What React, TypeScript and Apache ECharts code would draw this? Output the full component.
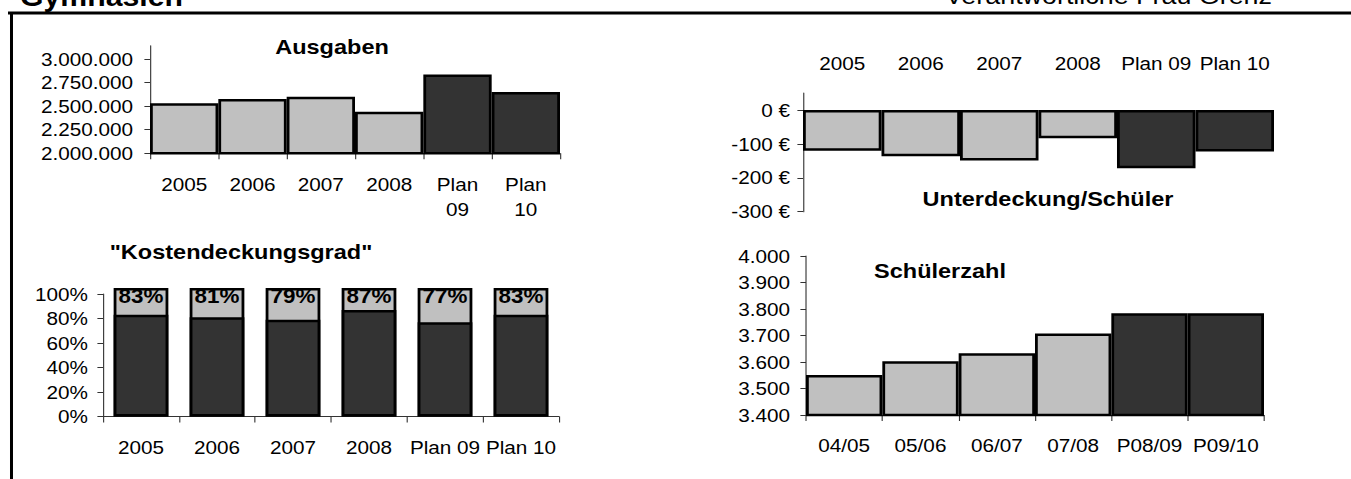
import { useEffect, useRef } from 'react';
import * as echarts from 'echarts';

// ---------- data ----------
const expenseYears = ['2005', '2006', '2007', '2008', 'Plan 09', 'Plan 10'];
const expenses = [2530000, 2575000, 2600000, 2440000, 2835000, 2650000];
const expenseTicks = [2000000, 2250000, 2500000, 2750000, 3000000];

const deficitYears = ['2005', '2006', '2007', '2008', 'Plan 09', 'Plan 10'];
const deficitPerPupil = [-120, -136, -149, -83, -172, -122];
const deficitTicks = [0, -100, -200, -300];

const coverageYears = ['2005', '2006', '2007', '2008', 'Plan 09', 'Plan 10'];
const coverage = [83, 81, 79, 87, 77, 83];
const coverageCap = [105, 105, 105, 105, 105, 105];

const schoolYears = ['04/05', '05/06', '06/07', '07/08', 'P08/09', 'P09/10'];
const pupils = [3551, 3603, 3633, 3708, 3784, 3784];

// ---------- layout / style ----------
const PAGE_W = 1351;
const PAGE_H = 479;
const CW = 1206;
const SX = PAGE_W / CW;
const X = (p: number) => p / SX;

const FONT = '"Liberation Sans", Arial, Helvetica, sans-serif';
const TICK_FONT = 18.5;
const AXIS_COLOR = '#333';
const GRAY = '#c0c0c0';
const DARK = '#333333';

const thousands = (v: number) => String(v).replace(/\B(?=(\d{3})+(?!\d))/g, '.');
const isPlan = (c: string) => c.startsWith('P');

const lineStyle = { color: AXIS_COLOR, width: 1 };

function catAxis(gridIndex: number, data: string[], margin: number, extra: any = {}) {
  return {
    type: 'category',
    gridIndex,
    data,
    axisLine: { show: true, onZero: false, lineStyle },
    axisTick: { show: true, length: 6, lineStyle },
    axisLabel: {
      interval: 0,
      color: '#000',
      fontFamily: FONT,
      fontSize: TICK_FONT,
      lineHeight: 20,
      margin,
      ...(extra.axisLabel || {}),
    },
    splitLine: { show: false },
    ...(extra.rest || {}),
  };
}

function valAxis(gridIndex: number, cfg: any, margin: number, formatter: (v: number) => string, custom?: number[]) {
  return {
    type: 'value',
    gridIndex,
    ...cfg,
    axisLine: { show: true, onZero: false, lineStyle },
    axisTick: { show: true, length: 5, lineStyle, ...(custom ? { customValues: custom } : {}) },
    axisLabel: {
      color: '#000',
      fontFamily: FONT,
      fontSize: TICK_FONT,
      margin,
      formatter,
      ...(custom ? { customValues: custom } : {}),
    },
    splitLine: { show: false },
  };
}

function barItem(cats: string[]) {
  return {
    color: (p: any) => (isPlan(cats[p.dataIndex]) ? DARK : GRAY),
    borderColor: '#000',
    borderWidth: 2.5,
  };
}

function titleText(text: string, cx: number, cy: number, size = 21) {
  return {
    type: 'text',
    x: X(cx),
    y: cy,
    silent: true,
    style: {
      text,
      fill: '#000',
      font: `bold ${size}px ${FONT}`,
      align: 'center',
      verticalAlign: 'middle',
    },
  };
}

export default function App() {
  const ref = useRef<HTMLDivElement>(null);

  useEffect(() => {
    if (!ref.current) return;
    const chart = echarts.init(ref.current, null, { renderer: 'svg' });

    const option: any = {
      animation: false,
      backgroundColor: '#fff',
      textStyle: { fontFamily: FONT },
      grid: [
        { left: X(150), top: 45.8, width: X(410), height: 107.5, outerBoundsMode: 'none' },
        { left: X(803), top: 93.1, width: X(471), height: 118.6, outerBoundsMode: 'none' },
        { left: X(103), top: 294, width: X(456), height: 122.5, outerBoundsMode: 'none' },
        { left: X(806), top: 256, width: X(458), height: 159, outerBoundsMode: 'none' },
      ],
      xAxis: [
        catAxis(0, expenseYears, 19, {
          axisLabel: { lineHeight: 25, formatter: (v: string) => v.replace(' ', '\n') },
        }),
        catAxis(1, deficitYears, 20, {
          rest: {
            position: 'top',
            axisLine: { show: false, onZero: false },
            axisTick: { show: false },
          },
        }),
        catAxis(2, coverageYears, 20.5),
        catAxis(3, schoolYears, 20),
      ],
      yAxis: [
        valAxis(0, { min: 2000000, max: 3140000 }, X(17), thousands, expenseTicks),
        valAxis(1, { min: -300, max: 50 }, X(13), (v: number) => `${v} €`, deficitTicks),
        valAxis(2, { min: 0, max: 100, interval: 20 }, X(15), (v: number) => `${v}%`),
        valAxis(3, { min: 3400, max: 4000, interval: 100 }, X(16), thousands),
      ],
      series: [
        {
          name: 'Ausgaben',
          type: 'bar',
          xAxisIndex: 0,
          yAxisIndex: 0,
          data: expenses,
          startValue: expenseTicks[0],
          barCategoryGap: '0%',
          itemStyle: barItem(expenseYears),
          silent: true,
        },
        {
          name: 'Unterdeckung/Schüler',
          type: 'bar',
          xAxisIndex: 1,
          yAxisIndex: 1,
          data: deficitPerPupil,
          barCategoryGap: '0%',
          itemStyle: barItem(deficitYears),
          silent: true,
        },
        {
          name: 'Gesamt',
          type: 'bar',
          xAxisIndex: 2,
          yAxisIndex: 2,
          data: coverageCap,
          clip: false,
          barGap: '-100%',
          barCategoryGap: '28%',
          itemStyle: { color: GRAY, borderColor: '#000', borderWidth: 2.5 },
          label: {
            show: true,
            position: 'insideTop',
            distance: 0,
            offset: [0, -2],
            formatter: (p: any) => `${coverage[p.dataIndex]}%`,
            color: '#000',
            fontFamily: FONT,
            fontWeight: 'bold',
            fontSize: 20,
          },
          silent: true,
        },
        {
          name: 'Kostendeckungsgrad',
          type: 'bar',
          xAxisIndex: 2,
          yAxisIndex: 2,
          data: coverage,
          barGap: '-100%',
          barCategoryGap: '28%',
          itemStyle: { color: DARK, borderColor: '#000', borderWidth: 2.5 },
          silent: true,
        },
        {
          name: 'Schülerzahl',
          type: 'bar',
          xAxisIndex: 3,
          yAxisIndex: 3,
          data: pupils,
          startValue: 3400,
          barCategoryGap: '0%',
          itemStyle: barItem(schoolYears),
          silent: true,
        },
      ],
      graphic: [
        {
          type: 'text',
          x: X(20),
          y: 5.5 - 0.3465 * 27,
          silent: true,
          style: { text: 'Gymnasien', fill: '#000', font: `bold 27px ${FONT}`, align: 'left', verticalAlign: 'middle' },
        },
        {
          type: 'text',
          x: X(1272),
          y: 3.5 - 0.3465 * 24,
          silent: true,
          style: { text: 'Verantwortliche Frau Grenz', fill: '#000', font: `24px ${FONT}`, align: 'right', verticalAlign: 'middle' },
        },
        {
          type: 'line',
          silent: true,
          shape: { x1: X(8), y1: 13, x2: X(1351), y2: 13 },
          style: { stroke: '#000', lineWidth: 3 },
        },
        {
          type: 'line',
          silent: true,
          shape: { x1: X(11.5), y1: 12, x2: X(11.5), y2: 479 },
          style: { stroke: '#000', lineWidth: 3 / SX },
        },
        titleText('Ausgaben', 332, 47),
        titleText('Unterdeckung/Schüler', 1048, 199),
        titleText('"Kostendeckungsgrad"', 241, 251.5),
        titleText('Schülerzahl', 940, 271),
      ],
    };

    chart.setOption(option);
    return () => chart.dispose();
  }, []);

  return (
    <div
      ref={ref}
      style={{
        position: 'absolute',
        left: 0,
        top: 0,
        width: CW,
        height: PAGE_H,
        transform: `scaleX(${SX})`,
        transformOrigin: '0 0',
        background: '#fff',
      }}
    />
  );
}
